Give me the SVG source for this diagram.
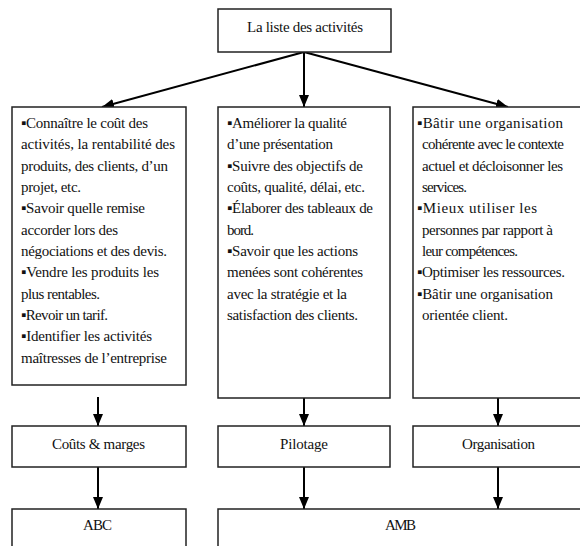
<svg xmlns="http://www.w3.org/2000/svg" width="580" height="546" viewBox="0 0 580 546">
<style>
.box{fill:#fff;stroke:#222;stroke-width:1.5}
text{font-family:"Liberation Serif","Times New Roman","DejaVu Serif",serif;font-size:15px;fill:#111}
.con{stroke:#000;stroke-width:2;fill:none;marker-end:url(#ah)}
</style>
<defs>
<marker id="ah" markerWidth="12" markerHeight="10" refX="12" refY="5" orient="auto" markerUnits="userSpaceOnUse" viewBox="0 0 12 10">
<path d="M0,0 L12,5 L0,10 Z" fill="#000"/>
</marker>
</defs>
<rect width="580" height="546" fill="#fff"/>
<g id="connectors">
<line class="con" x1="304" y1="52" x2="102" y2="107"/>
<line class="con" x1="304" y1="52" x2="304" y2="107"/>
<line class="con" x1="304" y1="52" x2="508" y2="107"/>
<line class="con" x1="98" y1="397" x2="98" y2="426"/>
<line class="con" x1="304" y1="398" x2="304" y2="426"/>
<line class="con" x1="498" y1="398" x2="498" y2="426"/>
<line class="con" x1="98" y1="467" x2="98" y2="509"/>
<line class="con" x1="304" y1="467" x2="304" y2="509"/>
<line class="con" x1="498" y1="467" x2="498" y2="509"/>
</g>
<g id="top">
<rect class="box" x="218" y="9" width="173" height="43"/>
<text x="247" y="32" textLength="116" lengthAdjust="spacing">La liste des activités</text>
</g>
<g id="left">
<rect class="box" x="12" y="107" width="174" height="278"/>
<text x="21" y="128" textLength="127" lengthAdjust="spacing">▪Connaître le coût des</text>
<text x="21" y="149" textLength="154" lengthAdjust="spacing">activités, la  rentabilité des</text>
<text x="21" y="171" textLength="147" lengthAdjust="spacing">produits, des clients, d’un</text>
<text x="21" y="192" textLength="60" lengthAdjust="spacing">projet, etc.</text>
<text x="21" y="213" textLength="124" lengthAdjust="spacing">▪Savoir quelle remise</text>
<text x="21" y="235" textLength="97" lengthAdjust="spacing">accorder lors des</text>
<text x="21" y="256" textLength="146" lengthAdjust="spacing">négociations et des devis.</text>
<text x="21" y="277" textLength="138" lengthAdjust="spacing">▪Vendre les produits les</text>
<text x="21" y="299" textLength="79" lengthAdjust="spacing">plus rentables.</text>
<text x="21" y="320" textLength="87" lengthAdjust="spacing">▪Revoir un tarif.</text>
<text x="21" y="341" textLength="131" lengthAdjust="spacing">▪Identifier les activités</text>
<text x="21" y="363" textLength="146" lengthAdjust="spacing">maîtresses de l’entreprise</text>
</g>
<g id="middle">
<rect class="box" x="218" y="107" width="172" height="291"/>
<text x="227" y="128" textLength="120" lengthAdjust="spacing">▪Améliorer la qualité</text>
<text x="227" y="149" textLength="106" lengthAdjust="spacing">d’une présentation</text>
<text x="227" y="171" textLength="136" lengthAdjust="spacing">▪Suivre des objectifs de</text>
<text x="227" y="192" textLength="138" lengthAdjust="spacing">coûts, qualité, délai, etc.</text>
<text x="227" y="213" textLength="146" lengthAdjust="spacing">▪Élaborer des tableaux de</text>
<text x="227" y="235" textLength="27" lengthAdjust="spacing">bord.</text>
<text x="227" y="256" textLength="131" lengthAdjust="spacing">▪Savoir que les actions</text>
<text x="227" y="277" textLength="136" lengthAdjust="spacing">menées sont cohérentes</text>
<text x="227" y="299" textLength="120" lengthAdjust="spacing">avec la stratégie et la</text>
<text x="227" y="320" textLength="131" lengthAdjust="spacing">satisfaction des clients.</text>
</g>
<g id="right">
<rect class="box" x="413" y="107" width="180" height="291"/>
<text x="417" y="128" textLength="146" lengthAdjust="spacing">▪Bâtir une organisation</text>
<text x="422" y="149" textLength="142" lengthAdjust="spacing">cohérente avec le contexte</text>
<text x="422" y="171" textLength="141" lengthAdjust="spacing">actuel  et décloisonner les</text>
<text x="422" y="192" textLength="45" lengthAdjust="spacing">services.</text>
<text x="417" y="213" textLength="120" lengthAdjust="spacing">▪Mieux utiliser les</text>
<text x="422" y="235" textLength="131" lengthAdjust="spacing">personnes par rapport à</text>
<text x="422" y="256" textLength="96" lengthAdjust="spacing">leur compétences.</text>
<text x="417" y="277" textLength="148" lengthAdjust="spacing">▪Optimiser les ressources.</text>
<text x="417" y="299" textLength="136" lengthAdjust="spacing">▪Bâtir une organisation</text>
<text x="422" y="320" textLength="86" lengthAdjust="spacing">orientée client.</text>
</g>
<g id="couts">
<rect class="box" x="12" y="426" width="174" height="41"/>
<text x="52" y="449" textLength="93" lengthAdjust="spacing">Coûts &amp; marges</text>
</g>
<g id="pilotage">
<rect class="box" x="218" y="426" width="172" height="41"/>
<text x="280" y="449" textLength="48" lengthAdjust="spacing">Pilotage</text>
</g>
<g id="organisation">
<rect class="box" x="413" y="426" width="180" height="41"/>
<text x="462" y="449" textLength="73" lengthAdjust="spacing">Organisation</text>
</g>
<g id="abc">
<rect class="box" x="12" y="509" width="174" height="60"/>
<text x="83" y="530" textLength="29" lengthAdjust="spacing">ABC</text>
</g>
<g id="amb">
<rect class="box" x="218" y="509" width="375" height="60"/>
<text x="385" y="530" textLength="31" lengthAdjust="spacing">AMB</text>
</g>
</svg>
